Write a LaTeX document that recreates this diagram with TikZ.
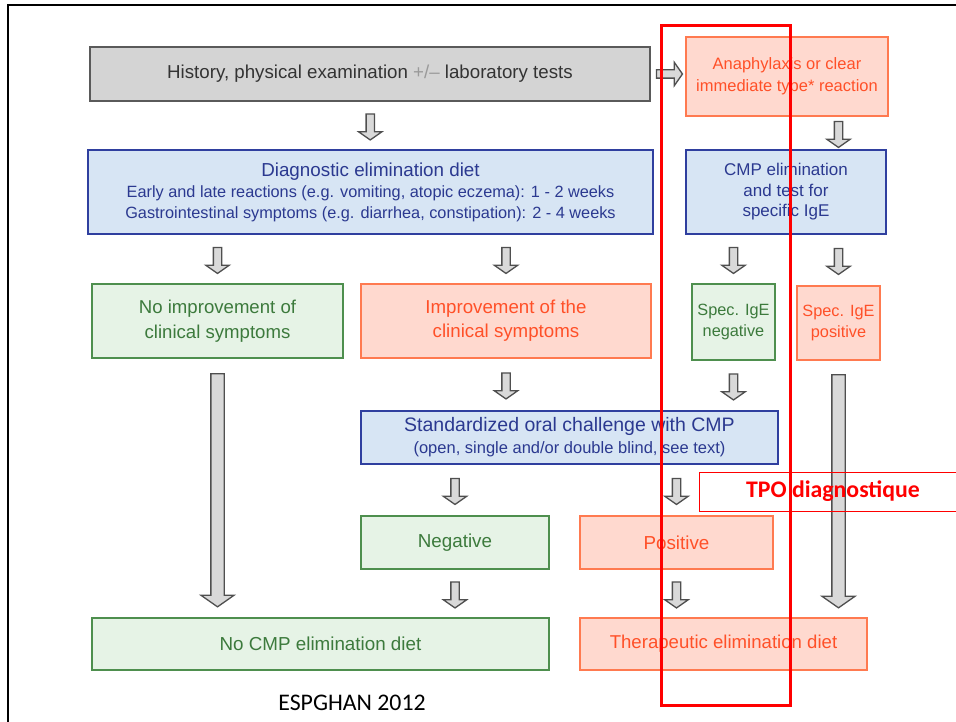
\documentclass[tikz,border=0pt]{standalone}
\usepackage{fontspec}
\setmainfont{Liberation Sans}
\newfontfamily\calibfont{Carlito}
\usepackage{xcolor}
\usetikzlibrary{shapes.arrows,calc}

\definecolor{boxgray}{HTML}{D4D4D4}
\definecolor{linegray}{HTML}{5A5A5A}
\definecolor{textgray}{HTML}{333333}
\definecolor{plusgray}{HTML}{9A9A9A}
\definecolor{bluefill}{HTML}{D7E5F4}
\definecolor{blueline}{HTML}{2F3F9F}
\definecolor{bluetext}{HTML}{2B3990}
\definecolor{greenfill}{HTML}{E6F3E6}
\definecolor{greenline}{HTML}{4E8F4E}
\definecolor{greentext}{HTML}{3C7A3C}
\definecolor{redfill}{HTML}{FFD9CF}
\definecolor{redline}{HTML}{FF7A50}
\definecolor{redtext}{HTML}{FF5028}
\definecolor{arrfill}{HTML}{D9D9D9}
\definecolor{arrline}{HTML}{4F4F4F}

\newcommand\fsz[2]{\fontsize{#1}{#2}\selectfont}

\tikzset{
	box/.style={draw, line width=1.5pt, inner sep=0pt, align=center},
	graybox/.style={box, fill=boxgray, draw=linegray, text=textgray},
	bluebox/.style={box, fill=bluefill, draw=blueline, text=bluetext},
	greenbox/.style={box, fill=greenfill, draw=greenline, text=greentext},
	redbox/.style={box, fill=redfill, draw=redline, text=redtext},
	blockarr/.style={single arrow, draw=arrline, fill=arrfill, line width=1.3pt, inner sep=0pt, inner ysep=3.5pt, single arrow head extend=7.5pt, single arrow tip angle=110, minimum height=26pt},
	downarr/.style={blockarr, rotate=-90},
	longarr/.style={downarr, inner ysep=6pt, single arrow head extend=10pt},
}

\begin{document}
\begin{tikzpicture}[x=1pt, y=-1pt]
	\useasboundingbox (0, 0) rectangle (956, 722);
	\draw [line width=1.5pt] (8, 722) -- (8, 5) -- (956, 5);

	\node [graybox, minimum width=560, minimum height=54, font=\fsz{18.7}{21}] (hist) at (370, 74) {History, physical examination {\color{plusgray}+/--} laboratory tests};
	\node [redbox, minimum width=202, minimum height=79, font=\fsz{16.5}{22}] (anaph) at (787, 76.5) {Anaphylaxis or clear\\immediate type* reaction};
	\node [bluebox, minimum width=565, minimum height=84, font=\fsz{16.3}{21}] (diag) at (370.5, 192) {{\fsz{18.8}{21}Diagnostic elimination diet}\\Early and late reactions (e.g. vomiting, atopic eczema): 1 - 2 weeks\\Gastrointestinal symptoms (e.g. diarrhea, constipation): 2 - 4 weeks};
	\node [bluebox, minimum width=200, minimum height=84, font=\fsz{17}{20.5}] (cmpel) at (786, 192) {CMP elimination\\and test for\\specific IgE};
	\node [greenbox, minimum width=251, minimum height=74, font=\fsz{18.6}{25}] (noimp) at (217.5, 321) {No improvement of\\clinical symptoms};
	\node [redbox, minimum width=290, minimum height=74, font=\fsz{18.7}{24}] (imp) at (506, 321) {Improvement of the\\clinical symptoms};
	\node [greenbox, minimum width=83, minimum height=76, font=\fsz{16.3}{21}] (negige) at (733.5, 322) {Spec. IgE\\negative};
	\node [redbox, minimum width=83, minimum height=74, font=\fsz{16.3}{21}] (posige) at (838.5, 323) {Spec. IgE\\positive};
	\node [bluebox, minimum width=417, minimum height=53, font=\fsz{19.5}{22}] (chall) at (569.5, 437.5) {Standardized oral challenge with CMP\\{\fsz{16.5}{22}(open, single and/or double blind, see text)}};
	\node [greenbox, minimum width=188, minimum height=53, font=\fsz{18.8}{21}] (neg) at (455, 542.5) {Negative};
	\node [redbox, minimum width=193, minimum height=53, font=\fsz{18.8}{21}] (pos) at (676.5, 542.5) {Positive};
	\node [greenbox, minimum width=457, minimum height=52, font=\fsz{18.8}{21}] (nocmp) at (320.5, 644) {No CMP elimination diet};
	\node [redbox, minimum width=287, minimum height=52, font=\fsz{18.6}{21}] (ther) at (723.5, 644) {Therapeutic elimination diet};

	\node [blockarr] (a0) at ($(hist.east)!0.5!(hist.east -| anaph.west)$) {};
	\node [downarr] (a1) at ($(hist.south)!0.5!(diag.north)$) {};
	\node [downarr] (a2) at ($(anaph.south -| posige)!0.5!(cmpel.north -| posige)$) {};
	\node [downarr] (a3) at ($(diag.south -| noimp)!0.5!(noimp.north)$) {};
	\node [downarr] (a4) at ($(diag.south -| imp)!0.5!(imp.north)$) {};
	\node [downarr] (a5) at ($(cmpel.south -| negige)!0.5!(negige.north)$) {};
	\node [downarr] (a6) at ($(cmpel.south -| posige)!0.5!(posige.north)$) {};
	\node [downarr] (a7) at ($(imp.south)!0.5!(chall.north -| imp)$) {};
	\node [downarr] (a8) at ($(negige.south)!0.5!(chall.north -| negige)$) {};
	\node [downarr] (a9) at ($(chall.south -| neg)!0.5!(neg.north)$) {};
	\node [downarr] (a10) at ($(chall.south -| pos)!0.5!(pos.north)$) {};
	\node [downarr] (a11) at ($(neg.south)!0.5!(nocmp.north -| neg)$) {};
	\node [downarr] (a12) at ($(pos.south)!0.5!(ther.north -| pos)$) {};
	\node [longarr, minimum height=233] (a13) at ($(noimp.south)!0.5!(nocmp.north -| noimp)$) {};
	\node [longarr, minimum height=233] (a14) at ($(posige.south)!0.5!(ther.north -| posige)$) {};

	\node [draw=red, line width=0.8pt, minimum width=268, minimum height=39, inner sep=0pt, text=red, font=\calibfont\bfseries\fsz{23.8}{26}] (tpo) at (833, 491.5) {TPO diagnostique};
	\node [font=\calibfont\fsz{23.8}{26}] (src) at (352, 703) {ESPGHAN 2012};
	\draw [red, line width=3pt] (661, 26) rectangle (790, 705);
\end{tikzpicture}
\end{document}
